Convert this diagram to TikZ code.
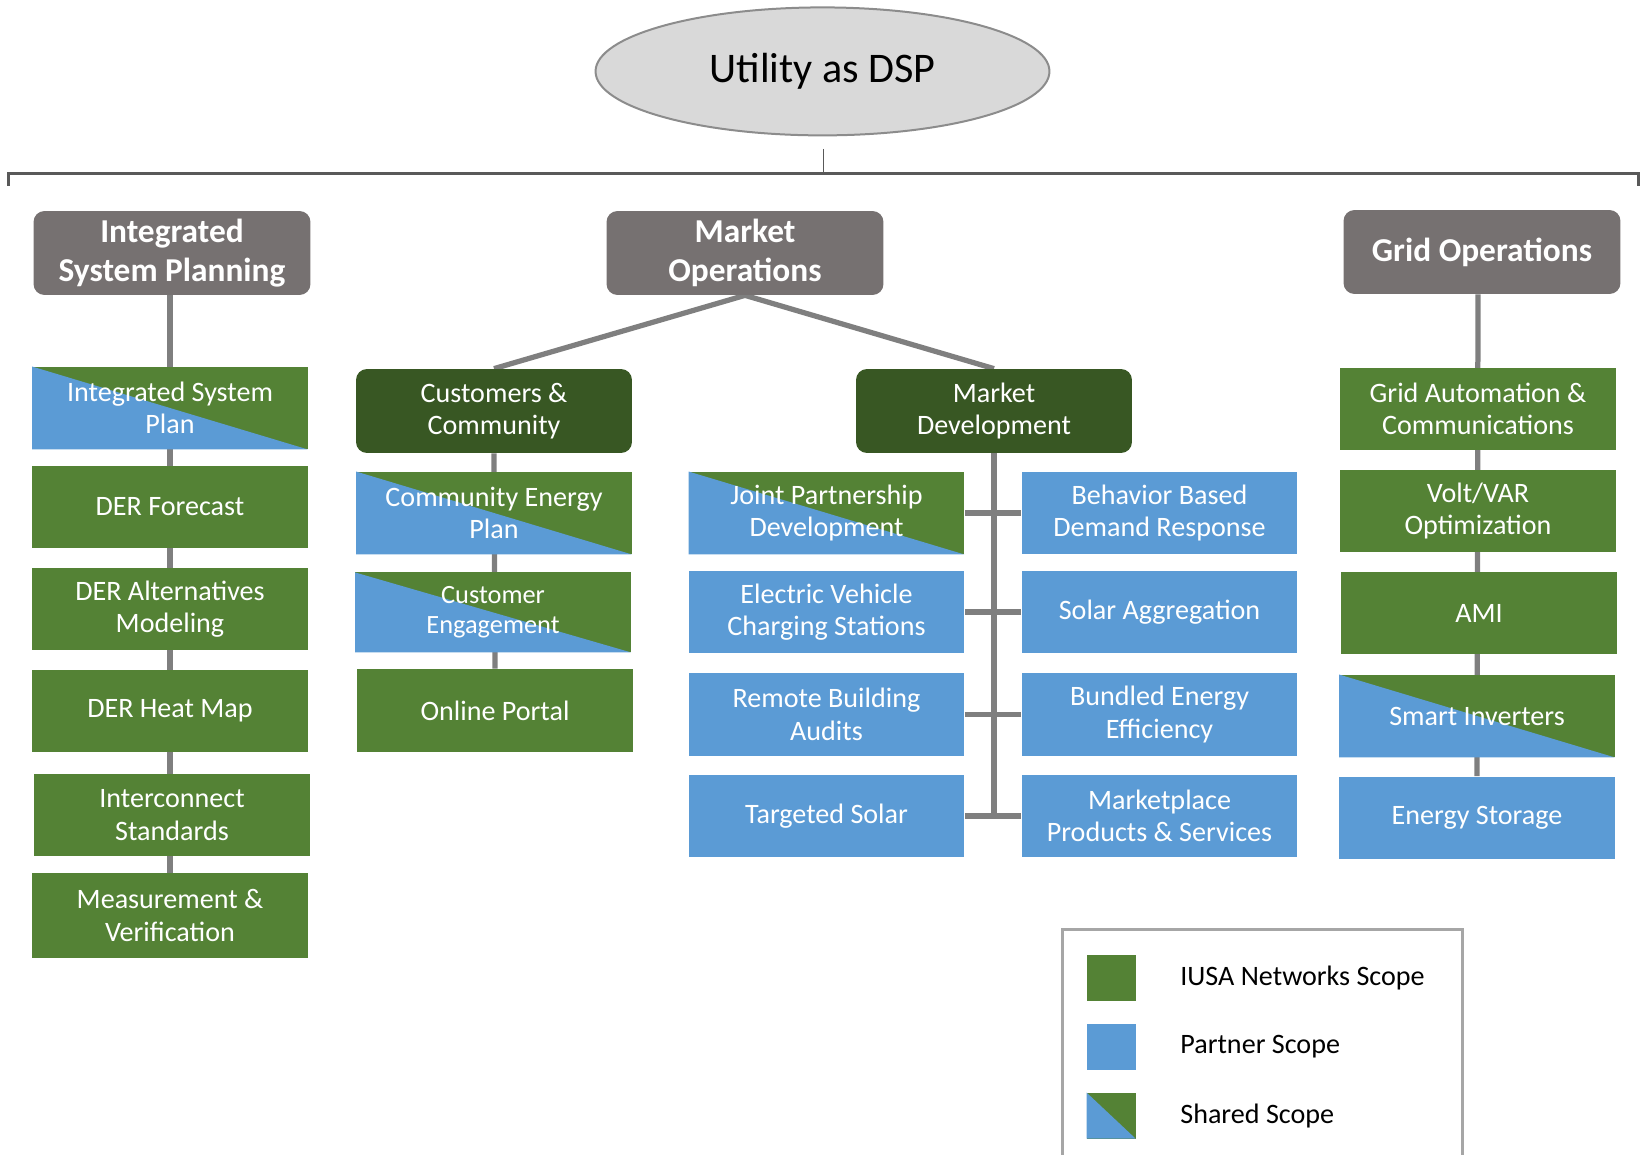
\documentclass[tikz,border=0pt]{standalone}
\usepackage{fontspec}
\setmainfont{Carlito}
\usetikzlibrary{shapes.geometric,backgrounds}

\definecolor{scopegreen}{HTML}{548235}
\definecolor{scopeblue}{HTML}{5B9BD5}
\definecolor{subgreen}{HTML}{385723}
\definecolor{headgray}{HTML}{767171}
\definecolor{linkgray}{HTML}{7F7F7F}
\definecolor{ellfill}{HTML}{D9D9D9}
\definecolor{ellline}{HTML}{8C8C8C}
\definecolor{bracketgray}{HTML}{595959}
\definecolor{legendline}{HTML}{A6A6A6}

\begin{document}
\begin{tikzpicture}[x=0.02cm, y=-0.02cm,
  item/.style={rectangle, inner sep=0pt, minimum width=5.52cm, minimum height=1.66cm,
    align=center, text=white, font=\fontsize{16}{18.5}\selectfont},
  own/.style={item, fill=scopegreen},
  partner/.style={item, fill=scopeblue},
  shared/.style={item, fill=scopegreen,
    path picture={\fill[scopeblue] (path picture bounding box.north west)
      -- (path picture bounding box.south east)
      -- (path picture bounding box.south west) -- cycle;}},
  header/.style={rectangle, rounded corners=0.22cm, fill=headgray, inner sep=0pt,
    minimum width=5.54cm, minimum height=1.68cm, align=center, text=white,
    font=\fontsize{19}{22}\selectfont\bfseries},
  subhead/.style={rectangle, rounded corners=0.22cm, fill=subgreen, inner sep=0pt,
    minimum width=5.52cm, minimum height=1.68cm, align=center, text=white,
    font=\fontsize{16}{18.5}\selectfont},
  link/.style={draw=linkgray, line width=0.105cm},
  bracket/.style={draw=bracketgray, line width=0.055cm},
  swatch/.style={rectangle, inner sep=0pt, minimum width=0.98cm, minimum height=0.92cm},
  legendtext/.style={anchor=west, inner sep=0pt, text=black, font=\fontsize{16}{18.5}\selectfont},
]
\useasboundingbox (0,0) rectangle (1647,1155);

% top ellipse
\node[ellipse, fill=ellfill, draw=ellline, line width=0.04cm, minimum width=9.08cm,
  minimum height=2.56cm, inner sep=0pt, font=\fontsize{24}{28}\selectfont] (dsp)
  at (822.5,71.4) {Utility as DSP};

% bracket below the ellipse
\coordinate (tickTop) at (823.5,149);
\coordinate (brMid) at (823.5,173.3);
\coordinate (brL) at (8.4,186);
\coordinate (brR) at (1638.6,186);
\draw[draw=bracketgray, line width=0.025cm] (tickTop) -- (brMid);
\draw[bracket] (brL) -- (brL |- brMid) -- (brR |- brMid) -- (brR);

% headers
\node[header] (isp) at (172,253) {Integrated\\System Planning};
\node[header] (mo) at (745,253) {Market\\Operations};
\node[header] (go) at (1482,252) {Grid Operations};

% integrated system planning column
\node[shared] (isplan) at (170,408) {Integrated System\\Plan};
\node[own] (derf) at (170,507) {DER Forecast};
\node[own] (dera) at (170,609) {DER Alternatives\\Modeling};
\node[own] (derh) at (170,711) {DER Heat Map};
\node[own] (icstd) at (172,815) {Interconnect\\Standards};
\node[own, minimum height=1.7cm] (mv) at (170,915.5) {Measurement \&\\Verification};

% customers & community column
\node[subhead] (cc) at (494,411) {Customers \&\\Community};
\node[shared] (cep) at (494,513) {Community Energy\\Plan};
\node[shared, minimum height=1.6cm, font=\fontsize{15}{17}\selectfont] (ce) at (493,612.4) {Customer\\Engagement};
\node[own] (op) at (495,710.5) {Online Portal};

% market development block
\node[subhead] (md) at (994,411) {Market\\Development};
\node[shared] (jpd) at (826.5,513) {Joint Partnership\\Development};
\node[partner] (bbdr) at (1159.5,513) {Behavior Based\\Demand Response};
\node[partner] (evcs) at (826.5,612) {Electric Vehicle\\Charging Stations};
\node[partner] (sagg) at (1159.5,612) {Solar Aggregation};
\node[partner] (rba) at (826.5,714.5) {Remote Building\\Audits};
\node[partner] (bee) at (1159.5,714.5) {Bundled Energy\\Efficiency};
\node[partner] (tsol) at (826.5,816) {Targeted Solar};
\node[partner] (mps) at (1159.5,816) {Marketplace\\Products \& Services};

% grid operations column
\node[own] (gac) at (1478,409) {Grid Automation \&\\Communications};
\node[own] (vvo) at (1478,511) {Volt/VAR\\Optimization};
\node[own] (ami) at (1479,613) {AMI};
\node[shared] (sinv) at (1477,716) {Smart Inverters};
\node[partner] (es) at (1477,818) {Energy Storage};

% connectors, kept behind the boxes
\begin{scope}[on background layer]
  \draw[link] (isplan.north |- isp.south) -- (mv.north);
  \draw[link] (mo.south) -- (cc.north);
  \draw[link] (mo.south) -- (md.north);
  \draw[link] (cc.south) -- (op.north);
  \draw[link] (md.south) -- (md.south |- tsol.east);
  \draw[link] (jpd.east) -- (bbdr.west);
  \draw[link] (evcs.east) -- (sagg.west);
  \draw[link] (rba.east) -- (bee.west);
  \draw[link] (tsol.east) -- (mps.west);
  \draw[link] (gac.north |- go.south) -- (es.north);
\end{scope}

% legend
\draw[draw=legendline, line width=0.06cm] (1062,929.6) rectangle (1462,1170);
\node[swatch, fill=scopegreen] (lgown) at (1111,978) {};
\node[swatch, fill=scopeblue] (lgpartner) at (1111,1046.7) {};
\node[swatch, fill=scopegreen,
  path picture={\fill[scopeblue] (path picture bounding box.north west)
    -- (path picture bounding box.south east)
    -- (path picture bounding box.south west) -- cycle;}] (lgshared) at (1111,1115.5) {};
\node[legendtext] (ltown) at (1180,978) {IUSA Networks Scope};
\node[legendtext] (ltpartner) at (1180,1046.7) {Partner Scope};
\node[legendtext] (ltshared) at (1180,1115.5) {Shared Scope};
\end{tikzpicture}
\end{document}
